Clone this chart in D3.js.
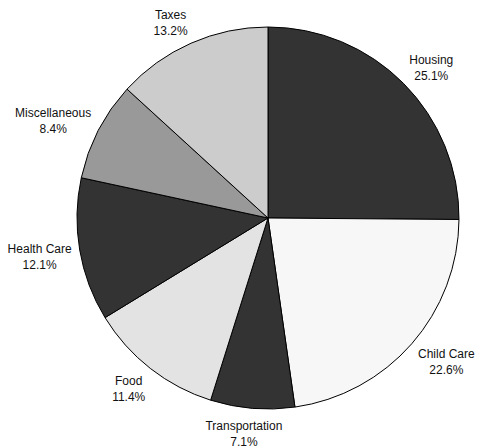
<!DOCTYPE html>
<html>
<head>
<meta charset="utf-8">
<script src="https://cdn.jsdelivr.net/npm/d3@7"></script>
<style>
  html, body { margin: 0; padding: 0; background: #ffffff; }
  svg { display: block; }
</style>
</head>
<body>
<svg id="chart" width="477" height="448"></svg>
<script>
const categories = ["Housing", "Child Care", "Transportation", "Food", "Health Care", "Miscellaneous", "Taxes"];
const values = [25.1, 22.6, 7.1, 11.4, 12.1, 8.4, 13.2];
const valueLabels = ["25.1%", "22.6%", "7.1%", "11.4%", "12.1%", "8.4%", "13.2%"];
const sliceColors = ["#333333", "#f7f7f7", "#333333", "#e3e3e3", "#333333", "#999999", "#cccccc"];

const width = 477, height = 448;
const cx = 268, cy = 218, radius = 191;

const svg = d3.select("#chart");
const g = svg.append("g").attr("transform", `translate(${cx},${cy})`);

const data = categories.map((c, i) => ({ name: c, value: values[i], label: valueLabels[i], color: sliceColors[i] }));

const pie = d3.pie().value(d => d.value).sort(null);
const arc = d3.arc().innerRadius(0).outerRadius(radius);
const arcs = pie(data);

g.selectAll("path.slice")
  .data(arcs)
  .enter().append("path")
  .attr("class", "slice")
  .attr("d", arc)
  .attr("fill", d => d.data.color)
  .attr("stroke", "#000")
  .attr("stroke-width", 1)
  .attr("stroke-linejoin", "round");

// labels placed just outside the pie
const labelR = 199;
const lineSpacing = 16;
const hh = 14;
arcs.forEach(a => {
  const mid = (a.startAngle + a.endAngle) / 2;
  const s = Math.sin(mid), c = Math.cos(mid);
  const t = g.append("text")
    .attr("text-anchor", "middle")
    .attr("font-family", "Liberation Sans, Arial, sans-serif")
    .attr("font-size", 12)
    .attr("fill", "#111");
  t.append("tspan").attr("x", 0).attr("y", -lineSpacing / 2 + 4.3).text(a.data.name);
  t.append("tspan").attr("x", 0).attr("y", lineSpacing / 2 + 4.3).text(a.data.label);
  const hw = t.node().getBBox().width / 2;
  const x = s * labelR + Math.sign(s) * hw * Math.min(1, Math.abs(s) / 0.4);
  const y = -c * (labelR + hh) + (c < 0 ? 3 : 0);
  t.attr("transform", `translate(${x},${y})`);
});
</script>
</body>
</html>
